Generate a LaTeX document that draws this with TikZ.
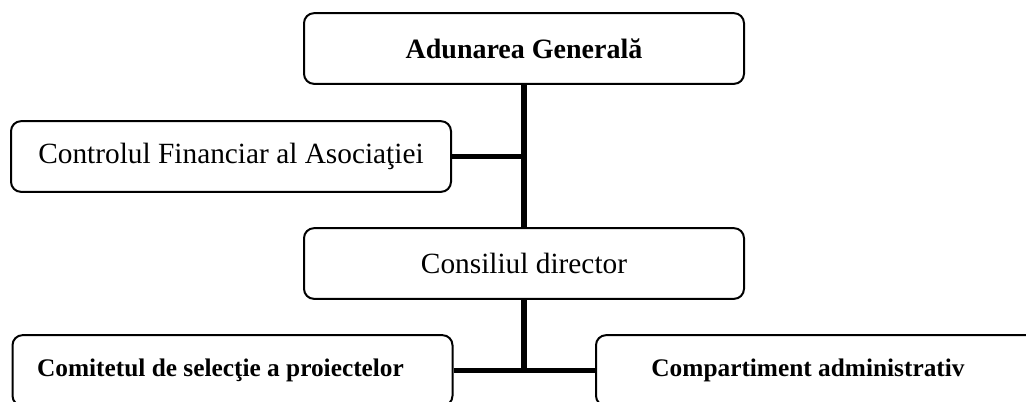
\documentclass[tikz,border=0pt]{standalone}
\usepackage{fontspec}
\setmainfont{Liberation Serif}
\usepackage{tikz}
\usepackage{xcolor}

\tikzset{
  box/.style={draw, line width=1.5pt, rounded corners=7.5pt,
    minimum width=330pt, minimum height=53pt, inner sep=0pt},
  bigtxt/.style={font=\fontsize{22}{26}\selectfont},
  headtxt/.style={font=\fontsize{21}{25}\selectfont\bfseries},
  smalltxt/.style={font=\fontsize{19}{23}\selectfont\bfseries},
  link/.style={line width=4pt}
}

\begin{document}
\begin{tikzpicture}[x=0.75pt,y=-0.75pt]
  \clip (0,0) rectangle (1026,401);
  \useasboundingbox (0,0) rectangle (1026,401);
  \path (524,48.5)
    node (ag) [box,headtxt] {Adunarea Generală} ++(-293,108)
    node (cf) [box,bigtxt] {Controlul Financiar al Asociaţiei} ++(293,107)
    node (cd) [box,bigtxt] {Consiliul director} ++(-291.5,107)
    node (cs) [box,smalltxt] {Comitetul de selecţie a proiectelor\kern18pt} ++(583.5,0)
    node (ca) [box,smalltxt] {Compartiment administrativ\kern12pt}
    ;
  \coordinate (cfj) at (cf -| ag);
  \coordinate (cdj) at (cd |- cs);
  \draw[link] (ag) -- (cd);
  \draw[link] (cf) -- (cfj);
  \draw[link] (cd) -- (cdj);
  \draw[link] (cs) -- (ca);
\end{tikzpicture}
\end{document}
